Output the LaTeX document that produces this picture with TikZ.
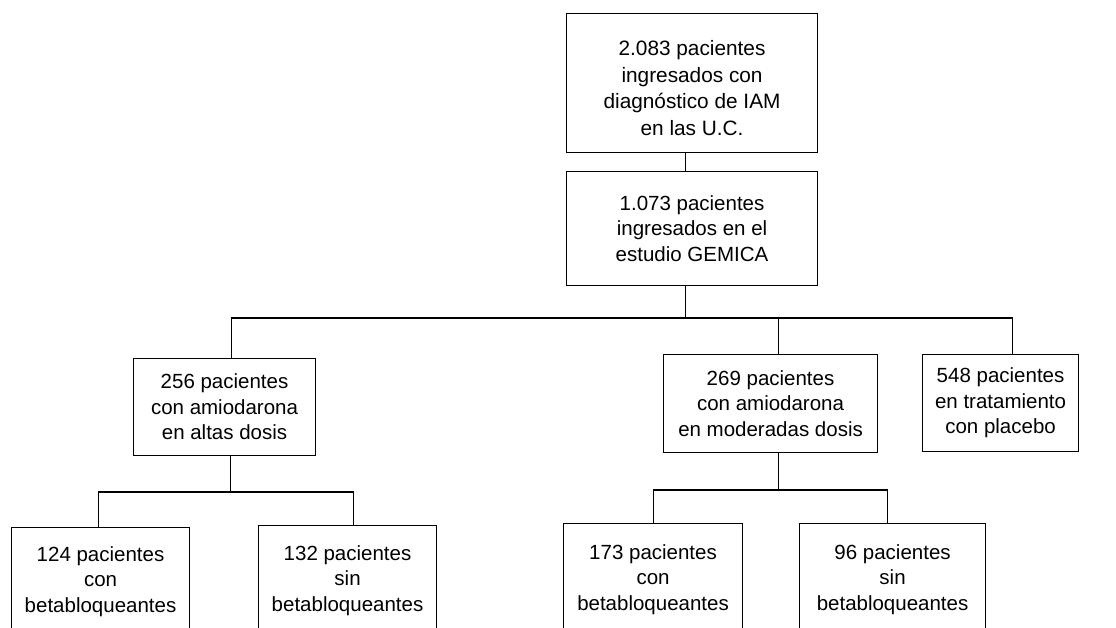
\documentclass[tikz,border=0pt]{standalone}
\usepackage{fontspec}
\setmainfont{Liberation Sans}
\begin{document}
\begin{tikzpicture}[x=1pt,y=-1pt,
  box/.style={draw, line width=1.1pt, align=center, inner sep=0pt, anchor=north west,
              font=\fontsize{20.5}{25.5}\selectfont},
  link/.style={line width=1.1pt}]
\useasboundingbox (0,0) rectangle (1116,627);
\clip (0,0) rectangle (1116,627);
\node[box, minimum width=251, minimum height=139, font=\fontsize{20.8}{26.5}\selectfont] (n2083) at (566,13)
  {\rule{0pt}{25pt}2.083 pacientes\\ingresados con\\diagnóstico de IAM\\en las U.C.};
\node[box, minimum width=251, minimum height=114] (gem) at (566,171)
  {1.073 pacientes\\ingresados en el\\estudio GEMICA};
\node[box, minimum width=182, minimum height=97] (a256) at (133,358)
  {256 pacientes\\con amiodarona\\en altas dosis};
\node[box, minimum width=214, minimum height=98] (m269) at (663,354)
  {269 pacientes\\con amiodarona\\en moderadas dosis};
\node[box, minimum width=156, minimum height=97] (p548) at (922,354)
  {548 pacientes\\en tratamiento\\con placebo};
\node[box, minimum width=178, minimum height=108] (b124) at (11,527)
  {124 pacientes\\con\\betabloqueantes};
\node[box, minimum width=178, minimum height=110] (s132) at (258,525)
  {132 pacientes\\sin\\betabloqueantes};
\node[box, minimum width=179, minimum height=112] (b173) at (563,523)
  {173 pacientes\\con\\betabloqueantes};
\node[box, minimum width=186, minimum height=112] (s96) at (799,523)
  {96 pacientes\\sin\\betabloqueantes};
\coordinate (bus) at (0,318);
\coordinate (busA) at (0,492);
\coordinate (busB) at (0,490);
\draw[link] ([xshift=-7pt]n2083.south) -- ([xshift=-7pt]gem.north);
\draw[link] ([xshift=-7pt]gem.south) -- ([xshift=-7pt]gem.south |- bus);
\draw[link] ([xshift=7pt]a256.north) |- ([xshift=12pt]p548.north |- bus) -- ([xshift=12pt]p548.north);
\draw[link] ([xshift=8pt]m269.north) -- ([xshift=8pt]m269.north |- bus);
\draw[link] ([xshift=6pt]a256.south) -- ([xshift=6pt]a256.south |- busA);
\draw[link] ([xshift=-2pt]b124.north) |- ([xshift=6pt]s132.north |- busA) -- ([xshift=6pt]s132.north);
\draw[link] ([xshift=8pt]m269.south) -- ([xshift=8pt]m269.south |- busB);
\draw[link] (b173.north) |- ([xshift=-5pt]s96.north |- busB) -- ([xshift=-5pt]s96.north);
\end{tikzpicture}
\end{document}
